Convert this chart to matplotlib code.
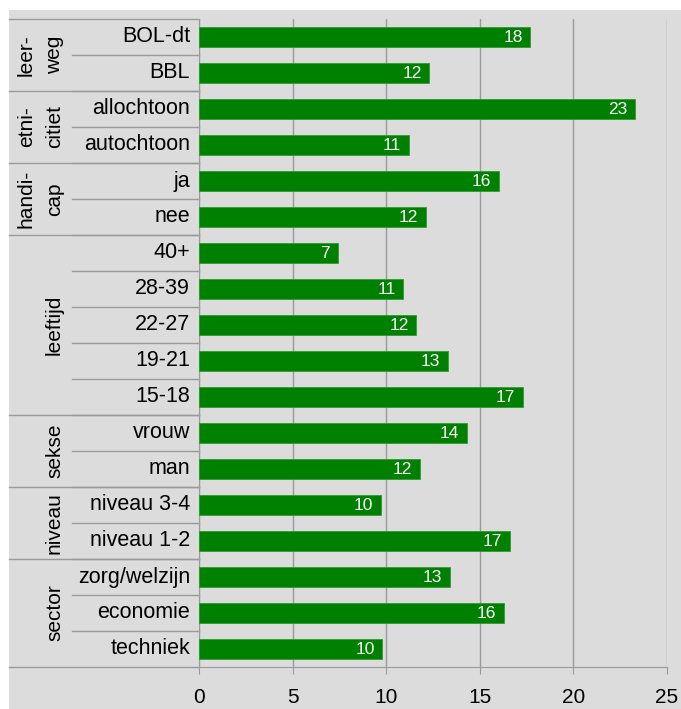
import matplotlib.pyplot as plt
import matplotlib.transforms as mtransforms
from matplotlib.patches import Rectangle

plt.rcParams['font.family'] = ['Liberation Sans', 'DejaVu Sans']

groups = ['leer-\nweg', 'etni-\ncitiet', 'handi-\ncap', 'leeftijd', 'sekse', 'niveau', 'sector']
group_sizes = [2, 2, 2, 5, 2, 2, 3]
categories = ['BOL-dt', 'BBL', 'allochtoon', 'autochtoon', 'ja', 'nee',
              '40+', '28-39', '22-27', '19-21', '15-18', 'vrouw', 'man',
              'niveau 3-4', 'niveau 1-2', 'zorg/welzijn', 'economie', 'techniek']
values = [17.7, 12.3, 23.3, 11.2, 16.0, 12.1,
          7.4, 10.9, 11.6, 13.3, 17.3, 14.3, 11.8,
          9.7, 16.6, 13.4, 16.3, 9.8]

W, H = 681, 709
grey = '#dcdcdc'
line_col = '#9a9a9a'

fig = plt.figure(figsize=(W / 100, H / 100), dpi=100)
fig.patches.append(Rectangle((9 / W, 0), 1, 1 - 10 / H, transform=fig.transFigure,
                             facecolor=grey, edgecolor='none', zorder=-1))

ax = fig.add_axes([199 / W, 1 - 667 / H, 468 / W, 648 / H])
ax.set_facecolor(grey)

y = list(range(len(categories)))
ax.barh(y, values, height=0.53, color='#008000', edgecolor='#2f9a2f',
        linewidth=0.6, zorder=3)
for yi, v in zip(y, values):
    ax.annotate(f'{v:.0f}', (v, yi), xytext=(-5.5, 0), textcoords='offset points',
                color='white', fontsize=12.5, ha='right', va='center', zorder=4)

ax.set_xlim(0, 25)
ax.set_ylim(len(categories) - 0.5, -0.5)
ax.set_xticks(range(0, 26, 5))
ax.set_yticks([])
ax.grid(axis='x', color=line_col, linewidth=1)
ax.set_axisbelow(True)
for s in ['top', 'right']:
    ax.spines[s].set_visible(False)
for s in ['left', 'bottom']:
    ax.spines[s].set_color(line_col)
ax.tick_params(axis='x', length=5, color=line_col, labelsize=15, pad=10)

# label table on the left: group column and category column
trans = mtransforms.blended_transform_factory(ax.transAxes, ax.transData)
x_outer = (9 - 199) / 468
x_inner = (72 - 199) / 468
x_cat = (190 - 199) / 468
x_grp = (64 - 199) / 468

for yi, cat in zip(y, categories):
    ax.text(x_cat, yi, cat, transform=trans, ha='right', va='center', fontsize=15.5)
    if yi > 0:
        ax.plot([x_inner, 0], [yi - 0.5, yi - 0.5], transform=trans, color=line_col,
                linewidth=1, clip_on=False)

start = 0
ax.plot([x_outer, 0], [-0.5, -0.5], transform=trans, color=line_col, linewidth=1, clip_on=False)
for g, n in zip(groups, group_sizes):
    end = start + n
    ax.plot([x_outer, 0], [end - 0.5, end - 0.5], transform=trans, color=line_col,
            linewidth=1, clip_on=False)
    ax.text(x_grp, (start + end - 1) / 2, g, transform=trans, rotation=90,
            ha='right', va='center', multialignment='center', linespacing=1.6,
            fontsize=15)
    start = end

fig.savefig('out.png', dpi=100)
